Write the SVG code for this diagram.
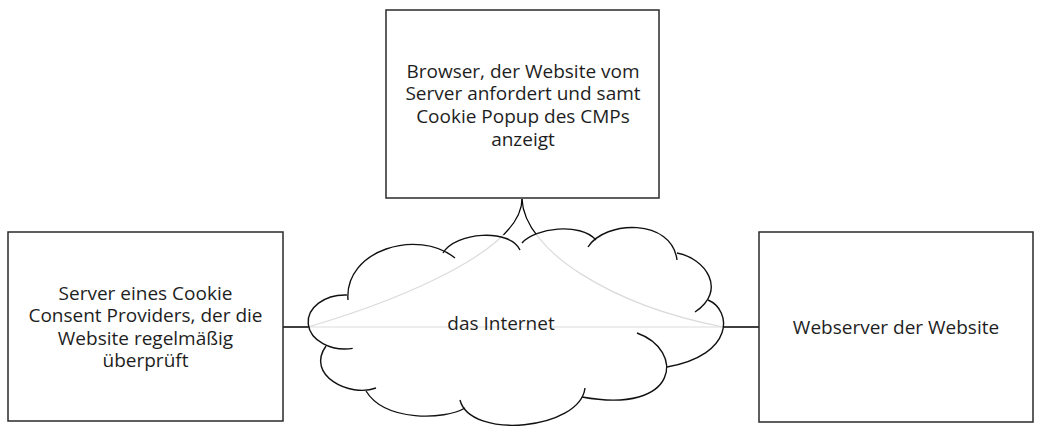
<svg xmlns="http://www.w3.org/2000/svg" width="1040" height="432" viewBox="0 0 1040 432">
<style>
.box{fill:#fff;stroke:#2a2a2a;stroke-width:1.5}
.lbl{font-family:"Open Sans","Noto Sans","Liberation Sans",sans-serif;font-size:19px;fill:#1e1e1e;text-anchor:middle}
.con{fill:none;stroke:#000;stroke-width:1.2}
.bump{fill:none;stroke:#111;stroke-width:1.4}
</style>
<rect width="1040" height="432" fill="#fff"/>
<g id="connectors">
<path class="con" d="M522,199 C522,250 400,300 308,327 L283,327"/>
<path class="con" d="M522,199 C524,250 610,305 723,327 L759,327"/>
<path class="con" d="M283,327 L759,327"/>
</g>
<g id="cloud">
<path fill="#fff" fill-opacity="0.86" stroke="none" d="M352.7,348.4 A37,27 0 1 1 346.9,295.0 L348,300 C344,250 418,228 443,253 C455,232 510,228 521,243 C535,228 580,222 596,240 C605,220 672,218 677,253 C705,258 728,290 708,300 C732,310 735,355 667,367 C680,380 660,405 582,397 C580,430 470,440 465,408 C445,420 385,422 366,391 C350,398 305,375 326,346 Z"/>
<path class="bump" d="M352.7,348.4 A37,27 0 1 1 346.9,295.0"/>
<path class="bump" d="M348,300 C344,250 418,228 455,258"/>
<path class="bump" d="M443,253 C455,232 510,228 520,250"/>
<path class="bump" d="M522,243 C535,228 580,222 596,240"/>
<path class="bump" d="M588,247 C605,220 672,218 677,260"/>
<path class="bump" d="M677,253 C705,258 728,290 695,312"/>
<path class="bump" d="M708,300 C732,310 735,355 667,367"/>
<path class="bump" d="M637,333 C685,350 680,415 582,397"/>
<path class="bump" d="M585,388 C580,430 470,440 460,400"/>
<path class="bump" d="M465,408 C445,420 385,422 366,391"/>
<path class="bump" d="M376,388 C350,398 305,375 326,346"/>
<text class="lbl" x="501" y="330">das Internet</text>
</g>
<g id="browser">
<rect class="box" x="386" y="10" width="273" height="188"/>
<text class="lbl" x="523" y="77.5">Browser, der Website vom</text>
<text class="lbl" x="523" y="100.3">Server anfordert und samt</text>
<text class="lbl" x="523" y="123.1">Cookie Popup des CMPs</text>
<text class="lbl" x="523" y="145.9">anzeigt</text>
</g>
<g id="cmp-server">
<rect class="box" x="8" y="232" width="275" height="189"/>
<text class="lbl" x="145.5" y="300">Server eines Cookie</text>
<text class="lbl" x="145.5" y="322.3">Consent Providers, der die</text>
<text class="lbl" x="145.5" y="344.6">Website regelmäßig</text>
<text class="lbl" x="145.5" y="366.9">überprüft</text>
</g>
<g id="webserver">
<rect class="box" x="759" y="232" width="274" height="190"/>
<text class="lbl" x="896" y="334">Webserver der Website</text>
</g>
</svg>
